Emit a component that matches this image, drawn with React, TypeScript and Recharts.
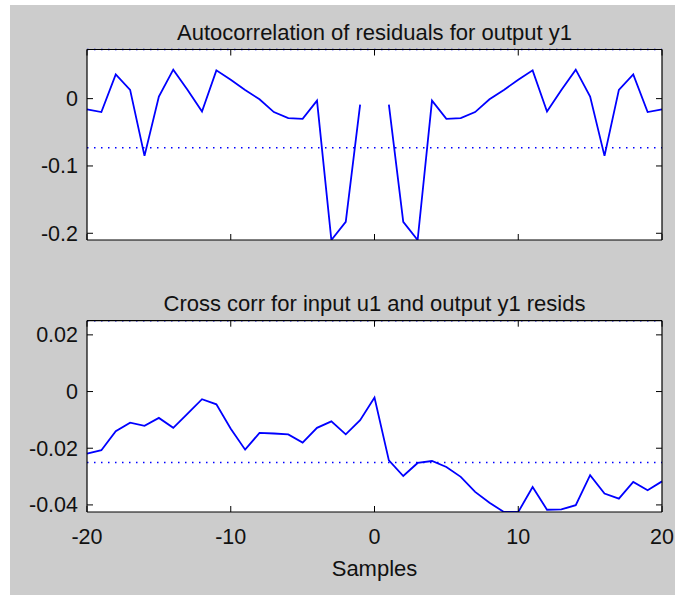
import { LineChart, Line, XAxis, YAxis, CartesianGrid, ReferenceLine } from 'recharts';

const lags = [
  -20, -19, -18, -17, -16, -15, -14, -13, -12, -11, -10, -9, -8, -7, -6, -5, -4, -3, -2, -1, 0,
  1, 2, 3, 4, 5, 6, 7, 8, 9, 10, 11, 12, 13, 14, 15, 16, 17, 18, 19, 20,
];

// autocorrelation of y1 residuals (lag 0 left out)
const acfValues = [
  -0.016, -0.02, 0.036, 0.013, -0.085, 0.003, 0.043, 0.013, -0.019, 0.042, 0.028, 0.013, -0.001,
  -0.02, -0.029, -0.03, -0.003, -0.21, -0.183, -0.009, null,
  -0.009, -0.183, -0.21, -0.003, -0.03, -0.029, -0.02, -0.001, 0.013, 0.028, 0.042, -0.019, 0.013,
  0.043, 0.003, -0.085, 0.013, 0.036, -0.02, -0.016,
];

// cross correlation u1 -> y1 residuals
const ccfValues = [
  -0.0219, -0.0207, -0.014, -0.011, -0.0121, -0.0093, -0.0128, -0.0078, -0.0027, -0.0045, -0.0131,
  -0.0205, -0.0146, -0.0148, -0.0151, -0.018, -0.0128, -0.0105, -0.0151, -0.0101, -0.0021,
  -0.0243, -0.0298, -0.0252, -0.0245, -0.0266, -0.0301, -0.0354, -0.0392, -0.0425, -0.0425, -0.0337,
  -0.0417, -0.0416, -0.0401, -0.0295, -0.036, -0.0378, -0.0319, -0.0348, -0.0317,
];

const acfConf = 0.073;
const ccfConf = 0.025;

const xTicks = [-20, -10, 0, 10, 20];
const acfTicks = [-0.2, -0.1, 0];
const ccfTicks = [-0.04, -0.02, 0, 0.02];

const FONT = '"Liberation Sans", Arial, Helvetica, sans-serif';
const BLUE = '#0000ff';
const TEXT = '#111';

const data = lags.map((lag, i) => ({ lag, acf: acfValues[i], ccf: ccfValues[i] }));

const fmt = (v: number) => (v === 0 ? '0' : String(v));

function BottomTick({ x, y, payload, showLabel }: any) {
  return (
    <g>
      <line x1={x} y1={y} x2={x} y2={y - 6} stroke="#000" />
      {showLabel && (
        <text x={x} y={y + 32} textAnchor="middle" fontSize={21.5} fontFamily={FONT} fill={TEXT}>
          {fmt(payload.value)}
        </text>
      )}
    </g>
  );
}

function TopTick({ x, y }: any) {
  return <line x1={x} y1={y} x2={x} y2={y + 6} stroke="#000" />;
}

function LeftTick({ x, y, payload }: any) {
  return (
    <g>
      <line x1={x} y1={y} x2={x + 6} y2={y} stroke="#000" />
      <text x={x - 9} y={y + 7.5} textAnchor="end" fontSize={21.5} fontFamily={FONT} fill={TEXT}>
        {fmt(payload.value)}
      </text>
    </g>
  );
}

function RightTick({ x, y }: any) {
  return <line x1={x} y1={y} x2={x - 6} y2={y} stroke="#000" />;
}

function Panel({ dataKey, domain, ticks, conf, showX, height, margin }: any) {
  return (
    <LineChart width={675} height={height} data={data} margin={margin}>
      <CartesianGrid fill="#fff" stroke="none" />
      <XAxis
        dataKey="lag"
        type="number"
        domain={[-20, 20]}
        ticks={xTicks}
        interval={0}
        height={1}
        tickSize={0}
        tickMargin={0}
        tickLine={false}
        axisLine={{ stroke: '#000', strokeWidth: 1.2 }}
        tick={(p: any) => <BottomTick {...p} showLabel={showX} />}
      />
      <XAxis
        xAxisId="top"
        orientation="top"
        dataKey="lag"
        type="number"
        domain={[-20, 20]}
        ticks={xTicks}
        interval={0}
        height={1}
        tickSize={0}
        tickMargin={0}
        tickLine={false}
        axisLine={{ stroke: '#000', strokeWidth: 1.2 }}
        tick={(p: any) => <TopTick {...p} />}
      />
      <YAxis
        type="number"
        domain={domain}
        ticks={ticks}
        interval={0}
        allowDataOverflow
        width={1}
        tickSize={0}
        tickMargin={0}
        tickLine={false}
        axisLine={{ stroke: '#000', strokeWidth: 1.2 }}
        tick={(p: any) => <LeftTick {...p} />}
      />
      <YAxis
        yAxisId="right"
        orientation="right"
        type="number"
        domain={domain}
        ticks={ticks}
        interval={0}
        allowDataOverflow
        width={1}
        tickSize={0}
        tickMargin={0}
        tickLine={false}
        axisLine={{ stroke: '#000', strokeWidth: 1.2 }}
        tick={(p: any) => <RightTick {...p} />}
      />
      <ReferenceLine y={conf} stroke={BLUE} strokeWidth={1.5} strokeDasharray="1.5 5.5" />
      <ReferenceLine y={-conf} stroke={BLUE} strokeWidth={1.5} strokeDasharray="1.5 5.5" />
      <Line
        type="linear"
        dataKey={dataKey}
        stroke={BLUE}
        strokeWidth={1.8}
        dot={false}
        connectNulls={false}
        isAnimationActive={false}
      />
    </LineChart>
  );
}

const titleStyle: any = {
  position: 'absolute',
  left: 87,
  width: 575,
  textAlign: 'center',
  fontFamily: FONT,
  fontSize: 22,
  color: TEXT,
  lineHeight: '24px',
};

export default function App() {
  return (
    <div style={{ position: 'absolute', left: 0, top: 0, width: 675, height: 595, background: '#fff' }}>
      <div style={{ position: 'absolute', left: 10, top: 5, width: 665, height: 590, background: '#cccccc' }} />
      <div style={{ ...titleStyle, top: 21 }}>Autocorrelation of residuals for output y1</div>
      <div style={{ position: 'absolute', left: 0, top: 0 }}>
        <Panel
          dataKey="acf"
          domain={[-0.21, acfConf]}
          ticks={acfTicks}
          conf={acfConf}
          showX={false}
          height={280}
          margin={{ top: 48.5, right: 12, bottom: 39, left: 86 }}
        />
      </div>
      <div style={{ ...titleStyle, top: 292 }}>Cross corr for input u1 and output y1 resids</div>
      <div style={{ position: 'absolute', left: 0, top: 280 }}>
        <Panel
          dataKey="ccf"
          domain={[-0.0425, ccfConf]}
          ticks={ccfTicks}
          conf={ccfConf}
          showX
          height={315}
          margin={{ top: 39.7, right: 12, bottom: 82, left: 86 }}
        />
      </div>
      <div style={{ ...titleStyle, top: 557 }}>Samples</div>
    </div>
  );
}
